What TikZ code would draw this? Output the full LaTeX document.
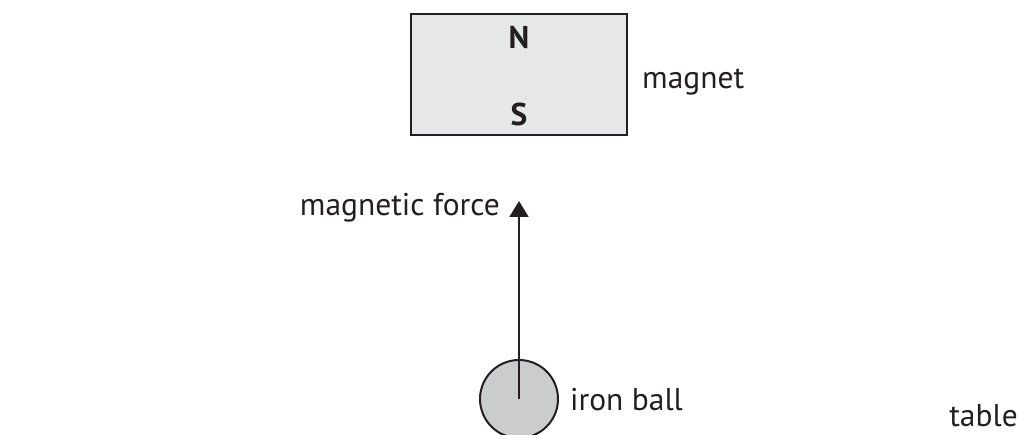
\documentclass[tikz,border=0pt]{standalone}
\usepackage{fontspec}
\setmainfont{PT Sans}
\usetikzlibrary{arrows.meta}
\definecolor{magfill}{HTML}{E6E7E8}
\definecolor{ballfill}{HTML}{CBCCCE}
\definecolor{ink}{HTML}{231F20}
\tikzset{
  lbl/.style={font=\fontsize{31.5}{34}\selectfont, text=ink, inner sep=0pt},
  pole/.style={font=\bfseries\fontsize{31.5}{34}\selectfont, text=ink, inner sep=0pt},
  force/.style={draw=ink, line width=2pt, -{Triangle[width=19pt,length=16pt]}},
}
\begin{document}
\begin{tikzpicture}[x=1pt,y=-1pt]
\useasboundingbox (0,0) rectangle (1027,435);
\node[draw=ink, line width=2pt, fill=magfill, minimum width=216pt, minimum height=121pt, inner sep=0pt] (magnet) at (519,74.5) {};
\node[pole, anchor=base] (N) at (519,49) {N};
\node[pole, anchor=base] (S) at (519,126) {S};
\node[lbl, anchor=base west] (magl) at (642,89) {magnet};
\begin{scope}
\clip (0,0) rectangle (1027,435);
\node[draw=ink, line width=2pt, fill=ballfill, circle, minimum size=78pt, inner sep=0pt] (ball) at (519,399) {};
\end{scope}
\coordinate (tip) at (519,201);
\draw[force] (ball.center) -- (tip);
\node[lbl, anchor=base east] (forcel) at (500,216) {magnetic force};
\node[lbl, anchor=base west] (ballt) at (570,410) {iron ball};
\node[lbl, anchor=base east] (table) at (1018,426) {table};
\end{tikzpicture}
\end{document}
